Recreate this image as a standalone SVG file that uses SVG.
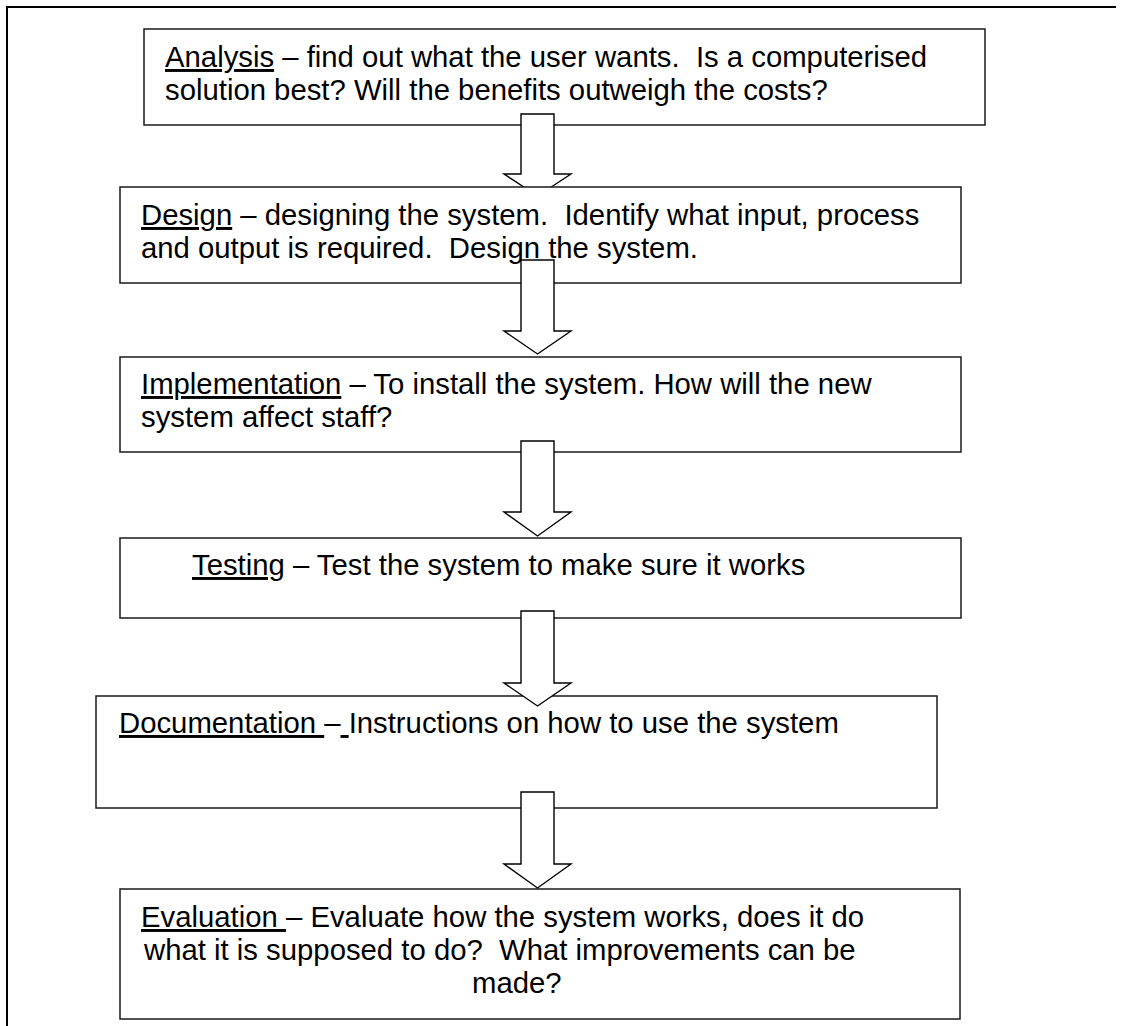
<svg xmlns="http://www.w3.org/2000/svg" width="1122" height="1026" viewBox="0 0 1122 1026">
<style>
.frame{fill:none;stroke:#000;stroke-width:2}
.box{fill:#fff;stroke:#1a1a1a;stroke-width:1.5}
.arrow{fill:#fff;stroke:#000;stroke-width:1.4;stroke-linejoin:miter}
text{font-family:"Liberation Sans",Arial,sans-serif;font-size:29.3px;fill:#000}
.u{text-decoration:underline}
</style>
<rect width="1122" height="1026" fill="#fff"/>
<g id="frame">
<path class="frame" d="M7 1026 V7 H1116"/>
</g>
<g id="analysis">
<rect class="box" x="144" y="29" width="841" height="96"/>
<text x="165" y="67" xml:space="preserve"><tspan class="u">Analysis</tspan> – find out what the user wants.  Is a computerised</text>
<text x="165" y="100">solution best? Will the benefits outweigh the costs?</text>
</g>
<g id="connectors">
<path id="arrow1" class="arrow" d="M521 114 H554 V174 H571 L537.5 196 L504 174 H521 Z"/>
</g>
<g id="design">
<rect class="box" x="120" y="187" width="841" height="96"/>
<text x="141" y="225" xml:space="preserve"><tspan class="u">Design</tspan> – designing the system.  Identify what input, process</text>
<text x="141" y="258" xml:space="preserve">and output is required.  Design the system.</text>
</g>
<g id="implementation">
<rect class="box" x="120" y="357" width="841" height="95"/>
<text x="141" y="394" xml:space="preserve"><tspan class="u">Implementation</tspan> – To install the system. How will the new</text>
<text x="141" y="427">system affect staff?</text>
</g>
<g id="testing">
<rect class="box" x="120" y="538" width="841" height="80"/>
<text x="192" y="575" xml:space="preserve"><tspan class="u">Testing</tspan> – Test the system to make sure it works</text>
</g>
<g id="documentation">
<rect class="box" x="96" y="696" width="841" height="112"/>
<text x="119" y="733" xml:space="preserve"><tspan class="u">Documentation </tspan>–<tspan class="u"> </tspan>Instructions on how to use the system</text>
</g>
<g id="evaluation">
<rect class="box" x="120" y="889" width="840" height="130"/>
<text x="141" y="927" xml:space="preserve"><tspan class="u">Evaluation </tspan>– Evaluate how the system works, does it do</text>
<text x="144" y="960" xml:space="preserve">what it is supposed to do?  What improvements can be</text>
<text x="472" y="993">made?</text>
</g>
<g id="connectors2">
<path id="arrow2" class="arrow" d="M521 260 H554 V331 H571 L537.5 354 L504 331 H521 Z"/>
<path id="arrow3" class="arrow" d="M521 441 H554 V512 H571 L537.5 536 L504 512 H521 Z"/>
<path id="arrow4" class="arrow" d="M521 611 H554 V683 H571 L537.5 706 L504 683 H521 Z"/>
<path id="arrow5" class="arrow" d="M521 792 H554 V864 H571 L537.5 888 L504 864 H521 Z"/>
</g>
</svg>
